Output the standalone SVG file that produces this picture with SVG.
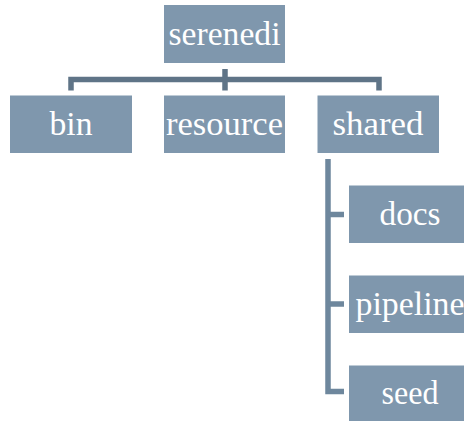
<svg xmlns="http://www.w3.org/2000/svg" width="464" height="421" viewBox="0 0 464 421">
<style>
.box{fill:#7F97AD}
.lbl{font-family:"Liberation Serif","Times New Roman",serif;font-size:33px;fill:#ffffff;text-anchor:middle}
.conn{fill:none;stroke-width:5.5;stroke-linejoin:miter;stroke-linecap:butt}
</style>
<rect width="464" height="421" fill="#ffffff"/>
<g id="connectors">
<path class="conn" stroke="#5F7487" d="M71 90.5 V79.5 H379 V90.5"/>
<path class="conn" stroke="#5F7487" d="M225 69 V90.5"/>
<path class="conn" stroke="#6E879D" d="M328 159 V391.5 H344"/>
<path class="conn" stroke="#6E879D" d="M328 214.5 H344"/>
<path class="conn" stroke="#6E879D" d="M328 304 H344"/>
</g>
<g id="serenedi">
<rect class="box" x="164" y="5" width="121" height="58"/>
<text class="lbl" x="224.5" y="44.5" textLength="112" lengthAdjust="spacingAndGlyphs">serenedi</text>
</g>
<g id="bin">
<rect class="box" x="10" y="95.5" width="122" height="57.5"/>
<text class="lbl" x="71" y="135" textLength="43" lengthAdjust="spacingAndGlyphs">bin</text>
</g>
<g id="resource">
<rect class="box" x="164" y="95.5" width="121" height="57.5"/>
<text class="lbl" x="224.5" y="135" textLength="117" lengthAdjust="spacingAndGlyphs">resource</text>
</g>
<g id="shared">
<rect class="box" x="317.5" y="95.5" width="121.5" height="57.5"/>
<text class="lbl" x="378" y="135" textLength="91" lengthAdjust="spacingAndGlyphs">shared</text>
</g>
<g id="docs">
<rect class="box" x="349" y="185.5" width="122" height="57.5"/>
<text class="lbl" x="410" y="224.5" textLength="61" lengthAdjust="spacingAndGlyphs">docs</text>
</g>
<g id="pipeline">
<rect class="box" x="349" y="275.5" width="122" height="57.5"/>
<text class="lbl" x="410" y="314.5" textLength="109" lengthAdjust="spacingAndGlyphs">pipeline</text>
</g>
<g id="seed">
<rect class="box" x="349" y="365.5" width="122" height="57.5"/>
<text class="lbl" x="410" y="403.5" textLength="57" lengthAdjust="spacingAndGlyphs">seed</text>
</g>
</svg>
